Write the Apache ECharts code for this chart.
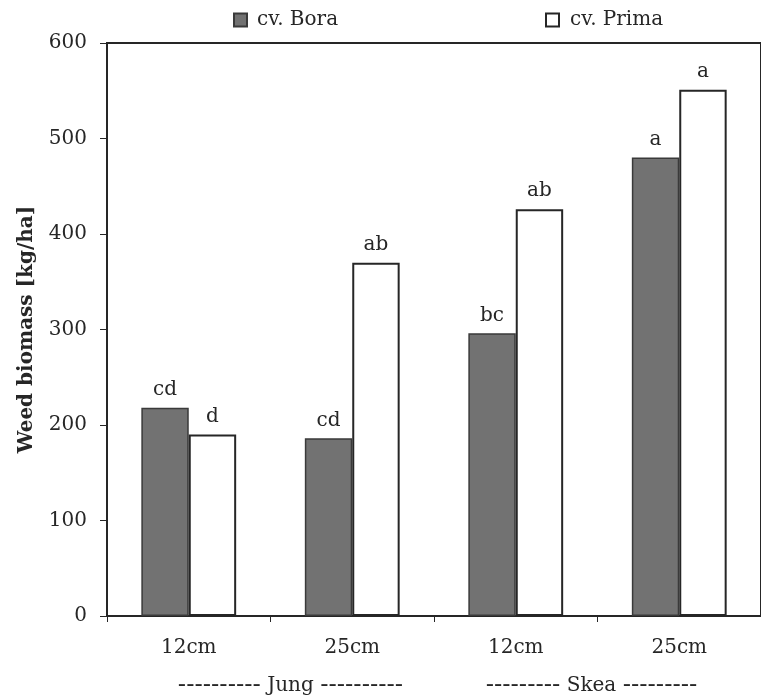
<!DOCTYPE html>
<html><head><meta charset="utf-8">
<script src="https://cdn.jsdelivr.net/npm/echarts@6/dist/echarts.min.js"></script>
<style>html,body{margin:0;padding:0;background:#fff}#c{width:761px;height:697px}</style>
</head><body><div id="c"></div>
<script>
const categories = ['12cm', '25cm', '12cm', '25cm'];
const groups = ['---------- Jung ----------', '--------- Skea ---------'];
const boraValues = [218, 186, 296, 480];
const primaValues = [190, 370, 426, 551];
const boraLetters = ['cd', 'cd', 'bc', 'a'];
const primaLetters = ['d', 'ab', 'ab', 'a'];
const yTicks = [0, 100, 200, 300, 400, 500, 600];

const F = 'DejaVu Serif';
const C = '#262626';
const groupPads = [[0, 0, 0, 40], [0, 12, 0, 0]];
const chart = echarts.init(document.getElementById('c'));
chart.setOption({
  animation: false,
  backgroundColor: '#fff',
  textStyle: { fontFamily: F, color: C },
  legend: [
    { data: ['cv. Bora'], left: 228, top: 5, icon: 'rect', itemWidth: 13, itemHeight: 13,
      textStyle: { fontFamily: F, fontSize: 20, color: C, padding: [0, 0, 0, 5] } },
    { data: ['cv. Prima'], left: 540, top: 5, icon: 'rect', itemWidth: 13, itemHeight: 13,
      textStyle: { fontFamily: F, fontSize: 20, color: C, padding: [0, 0, 0, 6] } }
  ],
  grid: { left: 107, right: -3, top: 43, bottom: 81, show: true, borderColor: C, borderWidth: 2, backgroundColor: 'transparent' },
  xAxis: [
    { type: 'category', data: categories, position: 'bottom',
      axisLine: { lineStyle: { color: C, width: 2 } },
      axisTick: { show: true, length: 6, lineStyle: { color: C } },
      axisLabel: { fontFamily: F, fontSize: 20, color: C, margin: 22, interval: 0 } },
    { type: 'category', position: 'bottom', offset: 58,
      data: groups.map((g, i) => ({ value: g, textStyle: { padding: groupPads[i] } })),
      axisLine: { show: false }, axisTick: { show: false },
      axisLabel: { fontFamily: F, fontSize: 20, color: C, margin: 0, interval: 0, hideOverlap: false,
        formatter: v => v.replace(/-+/g, m => '{d|' + m + '}'),
        rich: { d: { fontFamily: 'DejaVu Sans', fontSize: 23, color: C } } } }
  ],
  yAxis: {
    type: 'value', min: 0, max: 600, interval: 100,
    name: 'Weed biomass [kg/ha]', nameLocation: 'middle', nameGap: 70,
    nameTextStyle: { fontFamily: F, fontSize: 20, fontWeight: 'bold', color: C },
    axisLine: { show: true, lineStyle: { color: C, width: 2 } },
    axisTick: { show: true, length: 7, lineStyle: { color: C } },
    splitLine: { show: false },
    axisLabel: { fontFamily: F, fontSize: 20, color: C, margin: 20,
      formatter: v => yTicks.includes(v) ? String(v) : '' }
  },
  series: [
    { name: 'cv. Bora', type: 'bar', data: boraValues, xAxisIndex: 0,
      barGap: 0, barCategoryGap: '42%',
      itemStyle: { color: '#727272', borderColor: '#3a3a3a', borderWidth: 1.5 },
      label: { show: true, position: 'top', distance: 8, fontFamily: F, fontSize: 20, color: C,
        formatter: p => boraLetters[p.dataIndex] } },
    { name: 'cv. Prima', type: 'bar', data: primaValues, xAxisIndex: 0,
      itemStyle: { color: '#fff', borderColor: C, borderWidth: 2 },
      label: { show: true, position: 'top', distance: 8, fontFamily: F, fontSize: 20, color: C,
        formatter: p => primaLetters[p.dataIndex] } }
  ]
});
</script></body></html>
